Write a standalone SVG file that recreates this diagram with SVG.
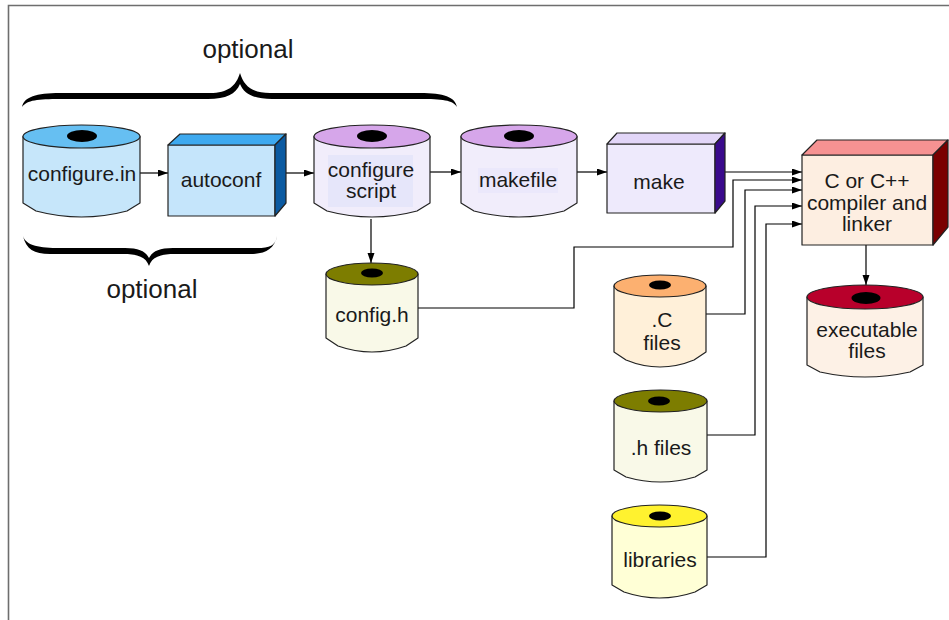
<svg xmlns="http://www.w3.org/2000/svg" width="949" height="620" viewBox="0 0 949 620">
<style>
text{font-family:"Liberation Sans",Arial,sans-serif;font-size:21px;fill:#1a1a1a;text-anchor:middle}
.big{font-size:26px}
.o{stroke:#222;stroke-width:1.2;stroke-linejoin:round}
.hole{fill:#000}
.c{fill:none;stroke:#000;stroke-width:1.2}
</style>
<defs>
<marker id="ah" markerUnits="userSpaceOnUse" markerWidth="11" markerHeight="8" refX="10" refY="3.5" orient="auto">
<path d="M0,0 L10,3.5 L0,7 Z" fill="#000"/>
</marker>
</defs>
<rect width="949" height="620" fill="#fff"/>
<path d="M8.5,620 V5.5 H949" fill="none" stroke="#6e6e6e" stroke-width="1.6"/>

<g id="brace-top">
<path d="M22,107 C24,97 36,93 60,93 L210,93 C228,93 236,86 240,73 C244,86 252,93 270,93 L420,93 C444,93 455,97 457,107 C453,100 442,99 420,99 L272,99 C254,99 244,94 240,84 C236,94 226,99 208,99 L60,99 C38,99 27,100 22,107 Z" fill="#000"/>
<text class="big" x="248" y="58">optional</text>
</g>
<g id="brace-bottom">
<path d="M23,236 C26,246 40,248 60,248 L125,248 C140,248 146,252 149,258 C152,252 158,248 173,248 L257,248 C270,248 275,246 277,236 C274,249 266,254 250,254 L175,254 C160,254 152,257 149,266 C146,257 138,254 123,254 L50,254 C34,254 26,249 23,236 Z" fill="#000"/>
<text class="big" x="152" y="298">optional</text>
</g>

<g id="connectors">
<path class="c" d="M140,173 H168" marker-end="url(#ah)"/>
<path class="c" d="M286,173 H314" marker-end="url(#ah)"/>
<path class="c" d="M430,172 H461" marker-end="url(#ah)"/>
<path class="c" d="M577,172 H607" marker-end="url(#ah)"/>
<path class="c" d="M725,172 H802" marker-end="url(#ah)"/>
<path class="c" d="M371,219 V263" marker-end="url(#ah)"/>
<path class="c" d="M418,308 H574 V247 H733 V180 H802" marker-end="url(#ah)"/>
<path class="c" d="M706,314 H745 V190 H802" marker-end="url(#ah)"/>
<path class="c" d="M707,435 H755 V206 H802" marker-end="url(#ah)"/>
<path class="c" d="M707,557 H766 V224 H802" marker-end="url(#ah)"/>
<path class="c" d="M866,245 V285" marker-end="url(#ah)"/>
</g>

<g id="configure-in">
<path class="o" d="M23,136.5 V203 L36,211 Q81.5,223 127,211 L140,203 V136.5 Z" fill="#c6e6fa"/>
<ellipse class="o" cx="81.5" cy="136.5" rx="58.5" ry="11.5" fill="#66bff2"/>
<ellipse class="hole" cx="82" cy="136" rx="15" ry="6"/>
<text x="82" y="181">configure.in</text>
</g>

<g id="autoconf">
<rect class="o" x="168" y="145" width="107" height="71" fill="#c5e5fb"/>
<polygon class="o" points="168,145 180,134 286,134 275,145" fill="#3ea9ef"/>
<polygon class="o" points="275,145 286,134 286,203 275,216" fill="#0b5aa1"/>
<text x="221" y="187">autoconf</text>
</g>

<g id="configure-script">
<path class="o" d="M314,136.5 V203 L327,211 Q372,223 417,211 L430,203 V136.5 Z" fill="#f1edfb"/>
<ellipse class="o" cx="372" cy="136.5" rx="58" ry="11.5" fill="#d6a6ea"/>
<ellipse class="hole" cx="372" cy="136" rx="15" ry="6"/>
<rect x="328" y="155" width="85" height="52" fill="#e6e6fa"/>
<text x="371" y="177">configure</text>
<text x="371" y="198">script</text>
</g>

<g id="makefile">
<path class="o" d="M461,136.5 V203 L474,211 Q519,223 564,211 L577,203 V136.5 Z" fill="#f1edfb"/>
<ellipse class="o" cx="519" cy="136.5" rx="58" ry="11.5" fill="#d6a6ea"/>
<ellipse class="hole" cx="519" cy="136" rx="15" ry="6"/>
<rect x="478" y="168" width="80" height="25" fill="#ebe8fb"/>
<text x="518" y="187">makefile</text>
</g>

<g id="make">
<rect class="o" x="607" y="144" width="108" height="69" fill="#eeeafc"/>
<polygon class="o" points="607,144 617,133 725,133 715,144" fill="#e2d6f8"/>
<polygon class="o" points="715,144 725,133 725,201 715,213" fill="#3a0a8c"/>
<text x="659" y="189">make</text>
</g>

<g id="compiler">
<rect class="o" x="802" y="155" width="131" height="90" fill="#fdeee1"/>
<polygon class="o" points="802,155 817,140 948,140 933,155" fill="#f69292"/>
<polygon class="o" points="933,155 948,140 948,227 933,245" fill="#7a0000"/>
<text x="867" y="188">C or C++</text>
<text x="867" y="210">compiler and</text>
<text x="867" y="231">linker</text>
</g>

<g id="config-h">
<path class="o" d="M326,274 V338 L338,346 Q372,358 406,346 L418,338 V274 Z" fill="#f9f9e8"/>
<ellipse class="o" cx="372" cy="274" rx="46" ry="11" fill="#7d7d00"/>
<ellipse class="hole" cx="372" cy="273" rx="11" ry="4.5"/>
<text x="372" y="322">config.h</text>
</g>

<g id="c-files">
<path class="o" d="M614,286 V352 L626,360 Q660,374 694,360 L706,352 V286 Z" fill="#fff0d9"/>
<ellipse class="o" cx="660" cy="286" rx="46" ry="11" fill="#fcb070"/>
<ellipse class="hole" cx="660" cy="285" rx="11" ry="4.5"/>
<text x="662" y="327">.C</text>
<text x="662" y="350">files</text>
</g>

<g id="h-files">
<path class="o" d="M614,401 V470 L626,477 Q660.5,487 695,477 L707,470 V401 Z" fill="#f9f9e8"/>
<ellipse class="o" cx="660.5" cy="401" rx="46.5" ry="11" fill="#7d7d00"/>
<ellipse class="hole" cx="659" cy="401" rx="11" ry="4.5"/>
<text x="661" y="455">.h files</text>
</g>

<g id="libraries">
<path class="o" d="M612,516 V585 L624,592 Q659.5,604 695,592 L707,585 V516 Z" fill="#ffffd6"/>
<ellipse class="o" cx="659.5" cy="516" rx="47.5" ry="11" fill="#fff22f"/>
<ellipse class="hole" cx="660" cy="516" rx="11" ry="4.5"/>
<text x="660" y="567">libraries</text>
</g>

<g id="executable-files">
<path class="o" d="M807,297 V365 L820,372 Q865,382 910,372 L923,365 V297 Z" fill="#fdf1e6"/>
<ellipse class="o" cx="865" cy="297" rx="58" ry="12" fill="#b8002b"/>
<ellipse class="hole" cx="866" cy="298" rx="14.5" ry="6"/>
<text x="867" y="337">executable</text>
<text x="867" y="358">files</text>
</g>
</svg>
